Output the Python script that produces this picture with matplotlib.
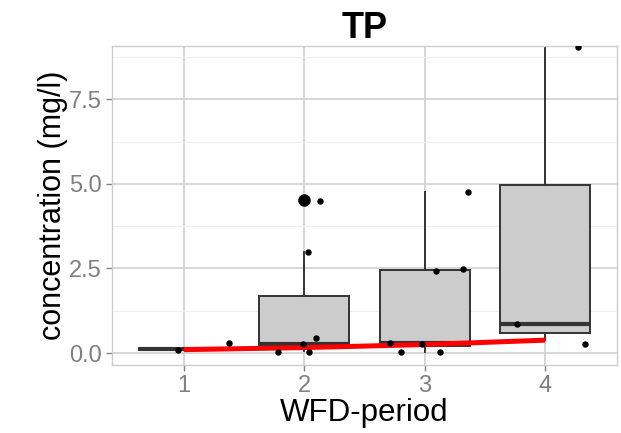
import matplotlib
matplotlib.use("Agg")
import matplotlib.pyplot as plt
from matplotlib.ticker import MultipleLocator

plt.rcParams['font.family'] = ['Liberation Sans', 'DejaVu Sans']

# box statistics per WFD-period
periods = [1, 2, 3, 4]
whislo = [0.08, 0.05, 0.03, 0.38]
q1 = [0.08, 0.20, 0.22, 0.58]
med = [0.11, 0.27, 0.29, 0.85]
q3 = [0.14, 1.70, 2.46, 4.96]
whishi = [0.14, 3.00, 4.75, 10.5]
outliers = [[], [4.53], [], []]

# jittered raw observations
pt_x = [0.95, 1.37, 1.78, 1.99, 2.03, 2.10, 2.04, 2.13,
        2.71, 2.80, 2.98, 3.09, 3.32, 3.36, 3.13,
        3.77, 4.27, 4.33]
pt_y = [0.10, 0.30, 0.03, 0.27, 2.98, 0.45, 0.02, 4.50,
        0.29, 0.03, 0.27, 2.42, 2.48, 4.76, 0.02,
        0.85, 9.05, 0.27]

# red trend line
trend_x = [1, 2, 3, 4]
trend_y = [0.10, 0.16, 0.25, 0.38]

fig = plt.figure(figsize=(6.21, 4.33), dpi=100)
ax = fig.add_axes([0.180, 0.157, 0.814, 0.737])

stats = []
for i in range(len(periods)):
    stats.append({'whislo': whislo[i], 'q1': q1[i], 'med': med[i], 'q3': q3[i],
                  'whishi': whishi[i], 'fliers': outliers[i]})

ax.bxp(stats, positions=periods, widths=0.75, patch_artist=True, showcaps=False,
       boxprops=dict(facecolor='#cccccc', edgecolor='#333333', linewidth=1.4),
       whiskerprops=dict(color='#333333', linewidth=1.4),
       medianprops=dict(color='#333333', linewidth=3),
       flierprops=dict(marker='o', markerfacecolor='black', markeredgecolor='black', markersize=8),
       zorder=2)

ax.plot(trend_x, trend_y, color='red', linewidth=3.6, zorder=3, solid_capstyle='butt')
ax.scatter(pt_x, pt_y, s=13, color='black', zorder=4)

ax.set_xticks(periods)
ax.yaxis.set_minor_locator(MultipleLocator(1.25))
ax.set_xlim(0.4, 4.6)
ax.set_ylim(-0.355, 9.08)
ax.set_yticks([0, 2.5, 5, 7.5])
ax.set_yticklabels(['0.0', '2.5', '5.0', '7.5'])

ax.grid(which='major', color='#d0d0d0', linewidth=1.2, zorder=0)
ax.grid(which='minor', axis='y', color='#efefef', linewidth=0.8, zorder=0)
ax.set_axisbelow(True)
for s in ax.spines.values():
    s.set_color('#cccccc')
    s.set_linewidth(1)

ax.tick_params(which='major', colors='#7f7f7f', labelsize=17, length=4, width=1, pad=3)
ax.tick_params(which='minor', length=0)

ax.set_xlabel('WFD-period', fontsize=22.5, labelpad=1)
ax.set_ylabel('concentration (mg/l)', fontsize=22, labelpad=1)
ax.set_title('TP', fontsize=26, fontweight='bold', pad=4)

fig.savefig('out.png', dpi=100)
